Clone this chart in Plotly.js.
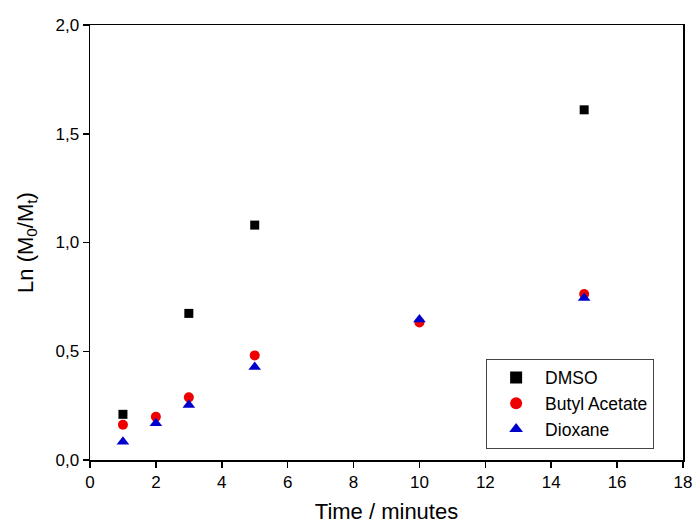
<!DOCTYPE html>
<html>
<head>
<meta charset="utf-8">
<script src="https://cdn.plot.ly/plotly-3.0.1.min.js"></script>
<style>html,body{margin:0;padding:0;background:#fff;}#chart{width:694px;height:530px;}</style>
</head>
<body>
<div id="chart"></div>
<script>
const dmsoX = [1, 3, 5, 15];
const dmsoY = [0.21, 0.674, 1.08, 1.61];
const butylX = [1, 2, 3, 5, 10, 15];
const butylY = [0.162, 0.199, 0.288, 0.481, 0.632, 0.763];
const dioxaneX = [1, 2, 3, 5, 10, 15];
const dioxaneY = [0.084, 0.169, 0.253, 0.428, 0.646, 0.745];
const seriesNames = ['DMSO', 'Butyl Acetate', 'Dioxane'];

const font = 'Arial, "Liberation Sans", sans-serif';
const traces = [
  {x: dmsoX, y: dmsoY, name: seriesNames[0], mode: 'markers', type: 'scatter',
   marker: {symbol: 'square', size: 9, color: '#000000'}},
  {x: butylX, y: butylY, name: seriesNames[1], mode: 'markers', type: 'scatter',
   marker: {symbol: 'circle', size: 10, color: '#ee0000'}},
  {x: dioxaneX, y: dioxaneY, name: seriesNames[2], mode: 'markers', type: 'scatter',
   marker: {symbol: 'triangle-up', size: 11, color: '#0000cc'}}
];
const layout = {
  width: 694, height: 530,
  margin: {l: 90, r: 11, t: 25, b: 70},
  paper_bgcolor: '#fff', plot_bgcolor: '#fff',
  separators: ',.',
  font: {family: font, size: 17, color: '#000'},
  showlegend: true,
  legend: {x: 0.668, y: 0.233, xanchor: 'left', yanchor: 'top',
    bordercolor: '#444', borderwidth: 1, bgcolor: '#fff', itemwidth: 48,
    font: {family: font, size: 17.5, color: '#000'}, tracegroupgap: 0, itemsizing: 'constant'},
  xaxis: {range: [0, 18], dtick: 2, tick0: 0, showgrid: false, zeroline: false,
    showline: true, linecolor: '#000', linewidth: 1.5, mirror: true,
    ticks: 'outside', ticklen: 6, tickwidth: 1.5, tickcolor: '#000',
    tickfont: {family: font, size: 17},
    title: {text: 'Time / minutes', font: {family: font, size: 22}, standoff: 12}},
  yaxis: {range: [0, 2], dtick: 0.5, tick0: 0, tickformat: '.1f', showgrid: false, zeroline: false,
    showline: true, linecolor: '#000', linewidth: 1.5, mirror: true,
    ticks: 'outside', ticklen: 6, tickwidth: 1.5, tickcolor: '#000',
    tickfont: {family: font, size: 17},
    title: {text: 'Ln (M<sub>0</sub>/M<sub>t</sub>)', font: {family: font, size: 22}, standoff: 16}}
};
Plotly.newPlot('chart', traces, layout, {displayModeBar: false, staticPlot: true});
</script>
</body>
</html>
